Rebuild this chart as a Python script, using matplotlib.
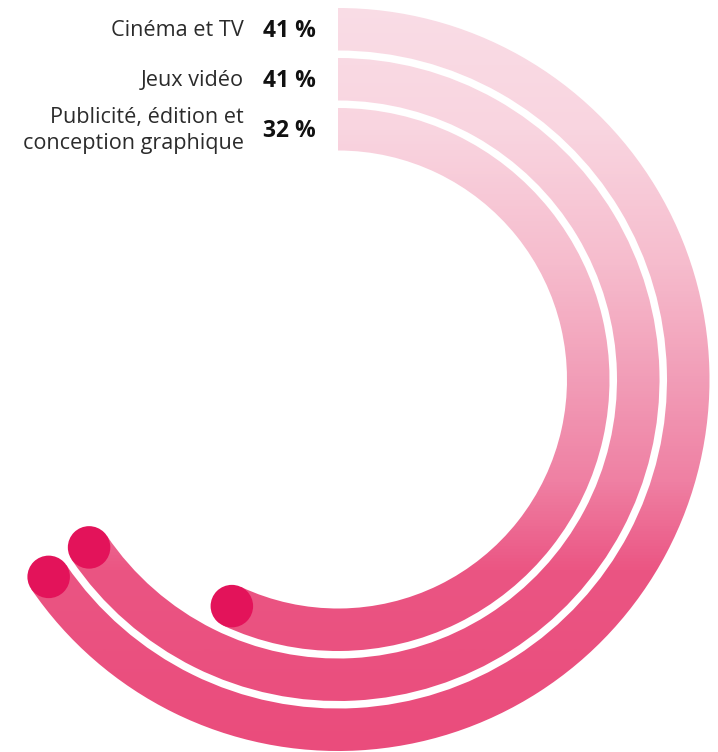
import numpy as np
import matplotlib
matplotlib.use("Agg")
import matplotlib.pyplot as plt
from matplotlib.patches import Wedge, Circle
from matplotlib.colors import LinearSegmentedColormap

# data
categories = ["Cinéma et TV", "Jeux vidéo", "Publicité, édition et\nconception graphique"]
values = [41, 41, 32]
# sweep of each arc, clockwise from 12 o'clock, in degrees (as drawn)
arc_deg = [235.7, 236.0, 205.1]

# geometry (pixel-like data units, y pointing down)
cx, cy = 338, 379.5
outer_r = [371.5, 321.5, 271.5]
ring_w = 42.5

fig = plt.figure(figsize=(7.18, 7.52), dpi=100)
ax = fig.add_axes([0, 0, 1, 1])
ax.set_xlim(0, 718)
ax.set_ylim(752, 0)
ax.set_aspect("equal")
ax.axis("off")

# vertical gradient, light pink at top to strong pink at bottom
stops = [(0.0, "#fadde6"), (0.17, "#f9d5e0"), (0.35, "#f6bccd"),
         (0.5, "#f29eb8"), (0.64, "#ef80a3"), (0.76, "#eb5583"), (1.0, "#ea4c7c")]
cmap = LinearSegmentedColormap.from_list("pinks", stops)
grad = np.linspace(0, 1, 752).reshape(-1, 1)

for r, sweep in zip(outer_r, arc_deg):
    wedge = Wedge((cx, cy), r, -90, -90 + sweep, width=ring_w,
                  facecolor="none", edgecolor="none")
    ax.add_patch(wedge)
    img = ax.imshow(grad, cmap=cmap, extent=[0, 718, 752, 0], aspect="auto",
                    interpolation="bilinear", zorder=1)
    img.set_clip_path(wedge)
    # dark round cap at the end of the arc
    rm = r - ring_w / 2
    a = np.deg2rad(-90 + sweep)
    ax.add_patch(Circle((cx + rm * np.cos(a), cy + rm * np.sin(a)), ring_w / 2,
                        facecolor="#e3135a", edgecolor="none", zorder=3))

ax.set_xlim(0, 718)
ax.set_ylim(752, 0)

# labels
font = ["Open Sans", "DejaVu Sans"]
for r, cat, v in zip(outer_r, categories, values):
    ymid = cy - r + ring_w / 2
    ax.text(244, ymid + 1.5, cat, ha="right", va="center", fontsize=15.6,
            color="#2b2b2b", family=font, linespacing=1.3)
    ax.text(263, ymid + 1.5, f"{v} %", ha="left", va="center", fontsize=16.5,
            fontweight="bold", color="#111111", family=font)

fig.savefig("out.png", dpi=100)
